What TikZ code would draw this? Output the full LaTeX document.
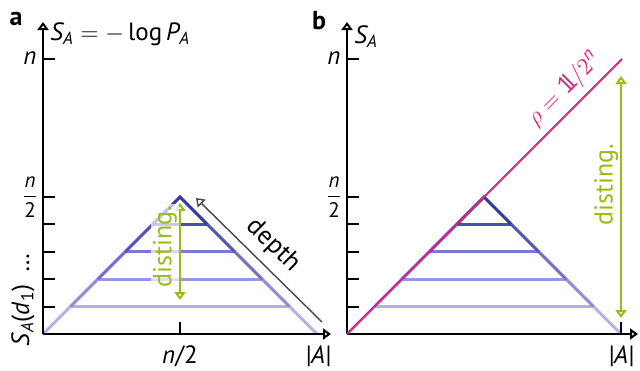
\documentclass[tikz,border=0pt]{standalone}
\usepackage{amsmath}
\usepackage{fontspec}
\setmainfont{PT Sans}
\usetikzlibrary{arrows.meta,positioning}
\definecolor{distgreen}{RGB}{150,190,20}
\definecolor{rhopink}{RGB}{232,30,120}
\definecolor{depthgray}{RGB}{70,70,70}
\definecolor{levA}{RGB}{180,180,230}
\definecolor{levB}{RGB}{142,142,216}
\definecolor{levC}{RGB}{112,112,202}
\definecolor{levD}{RGB}{82,82,190}
\definecolor{levE}{RGB}{55,55,172}
\definecolor{rungA}{RGB}{176,176,228}
\definecolor{rungB}{RGB}{150,150,218}
\definecolor{rungC}{RGB}{122,122,206}
\definecolor{rungD}{RGB}{75,75,186}
\newcommand{\vn}{\textit{n}}
\newcommand{\idone}{\mathrm{1}\mkern-4mu\mathrm{l}}

\begin{document}
\begin{tikzpicture}[x=0.5pt,y=-0.5pt,
  axis/.style={line width=1pt,-{Triangle[open,length=4pt,width=5.5pt]}},
  tick/.style={line width=1pt},
  edge/.style={line width=1.5pt},
  rung/.style={line width=1.5pt},
  distarrow/.style={draw=distgreen,line width=1pt,{Triangle[open,length=4pt,width=5.5pt]}-{Triangle[open,length=4pt,width=5.5pt]}},
  lbl/.style={font=\fontsize{12.5}{14}\selectfont,inner sep=1pt},
  frac/.style={font=\fontsize{10.5}{12}\selectfont,inner sep=1pt},
  word/.style={font=\fontsize{13}{15}\selectfont,inner sep=1pt},
  panel/.style={font=\fontsize{13}{15}\selectfont\bfseries,inner sep=0pt}]
\useasboundingbox (0,0) rectangle (640,370);

\node[panel] (pa) at (16,19) {a};
\node[panel] (pb) at (319,21) {b};

% triangles of levels
\foreach \dx in {0,304}{
  \foreach \k/\c in {1/rungA,2/rungB,3/rungC,4/rungD}
    \draw[rung,\c] ({43+\dx+27.4*\k},{334-27.4*\k}) -- ({317+\dx-27.4*\k},{334-27.4*\k});
  \foreach \k/\c in {1/levA,2/levB,3/levC,4/levD}{
    \draw[edge,\c] ({43+\dx+27.4*(\k-1)},{334-27.4*(\k-1)}) -- ({43+\dx+27.4*\k},{334-27.4*\k});
    \draw[edge,\c] ({317+\dx-27.4*(\k-1)},{334-27.4*(\k-1)}) -- ({317+\dx-27.4*\k},{334-27.4*\k});
  }
  \draw[edge,levE] ({43+\dx+109.6},224.4) -- ({180+\dx},197) -- ({317+\dx-109.6},224.4);
}

% panel a
\coordinate (oa) at (43,334);
\coordinate (ya) at (43,22);
\coordinate (xa) at (331,334);
\draw[axis] (oa) -- (ya);
\draw[axis] (oa) -- (xa);
\foreach \t in {59,197,224.4,251.8,279.2,306.6}
  \draw[tick] (43,\t) -- (55,\t);
\draw[tick] (180,334) -- (180,322);

\node[lbl,anchor=west] (sa) at (48,34) {$\textit{S}_{\textit{A}} = -\log \textit{P}_{\textit{A}}$};
\node[lbl] (na) at (30,58) {\vn};
\node[frac] (ha) at (30,197) {$\dfrac{\vn}{\textrm{2}}$};
\node[lbl,rotate=90] (sd) at (23,300) {\textit{S}\textsubscript{\textit{A}}(\textit{d}\textsubscript{1})\hspace{6pt}\ldots};
\node[lbl] (xha) at (180,356) {\vn/2};
\node[lbl] (aa) at (318,356) {\textit{|A|}};

\coordinate (da) at (180,300);
\coordinate (ua) at (180,203);
\draw[distarrow] (da) -- (ua) node[pos=0.55,sloped,above,word,text=distgreen,fill=white,fill opacity=0.7,text opacity=1] {disting.};

\coordinate (dt) at (196,198);
\coordinate (db) at (322,322);
\draw[depthgray,line width=0.7pt,{Triangle[open,length=4pt,width=5.5pt]}-] (dt) -- (db) node[midway,sloped,above=3pt,word,text=black] {depth};

% panel b
\coordinate (ob) at (347,334);
\coordinate (yb) at (347,22);
\coordinate (xb) at (638,334);
\draw[axis] (ob) -- (yb);
\draw[axis] (ob) -- (xb);
\foreach \t in {59,197,224.4,251.8,279.2,306.6}
  \draw[tick] (347,\t) -- (359,\t);
\draw[tick] (621,334) -- (621,322);

\node[lbl,anchor=west] (sb) at (352,37) {$\textit{S}_{\textit{A}}$};
\node[lbl] (nb) at (334,58) {\vn};
\node[frac] (hb) at (334,197) {$\dfrac{\vn}{\textrm{2}}$};
\node[lbl] (ab) at (621,356) {\textit{|A|}};

\coordinate (rt) at (622,59);
\draw[rhopink,line width=1pt] (ob) -- (rt) node[pos=0.84,sloped,above=2pt,lbl,text=rhopink] {$\rho = \idone/2^{\vn}$};

\coordinate (db2) at (621,318);
\coordinate (ub2) at (621,76);
\draw[distarrow] (db2) -- (ub2) node[pos=0.55,sloped,above,word,text=distgreen] {disting.};
\end{tikzpicture}
\end{document}
